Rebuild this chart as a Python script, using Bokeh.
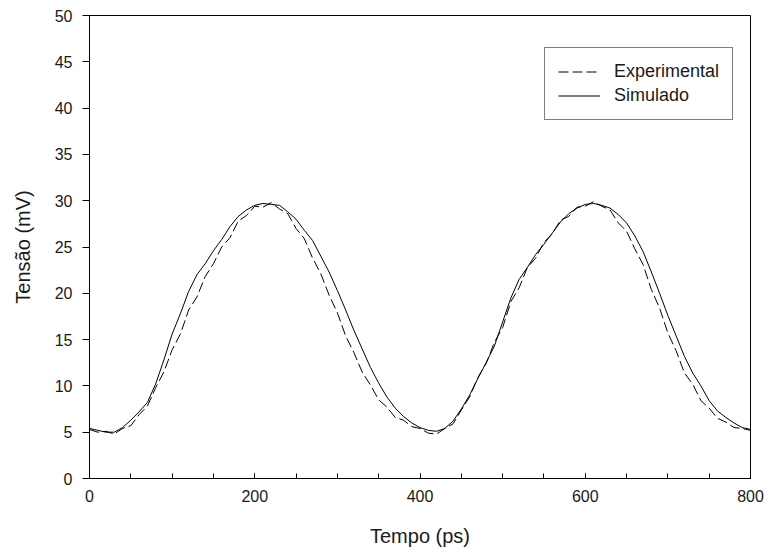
from bokeh.plotting import figure
from bokeh.models import Range1d, SingleIntervalTicker, Legend, LegendItem
from bokeh.embed import file_html
from bokeh.resources import INLINE

time_ps = list(range(0, 801, 10))

experimental_mv = [
    5.3, 5.0, 5.1, 4.8, 5.4, 5.7, 6.9, 7.8, 9.8, 11.5,
    13.9, 15.6, 18.2, 19.6, 21.8, 23.2, 25.0, 26.0, 27.8, 28.4,
    29.4, 29.3, 29.8, 29.1, 28.6, 27.0, 25.9, 23.8, 22.1, 19.8,
    17.9, 15.4, 13.6, 11.5, 10.1, 8.5, 7.7, 6.6, 6.3, 5.6,
    5.4, 4.9, 4.8, 5.4, 5.9, 7.4, 8.8, 10.9, 12.4, 14.7,
    16.3, 19.1, 20.6, 22.8, 23.8, 25.5, 26.4, 27.9, 28.3, 29.3,
    29.4, 29.9, 29.4, 29.0, 27.6, 26.7, 24.8, 23.1, 20.4, 18.4,
    15.7, 13.8, 11.4, 10.2, 8.4, 7.6, 6.5, 6.1, 5.5, 5.4,
    5.2,
]

simulated_mv = [
    5.4, 5.2, 5.0, 5.0, 5.5, 6.3, 7.2, 8.2, 10.2, 12.8,
    15.6, 17.8, 20.2, 22.0, 23.2, 24.6, 25.8, 27.2, 28.3, 29.0,
    29.5, 29.7, 29.6, 29.5, 28.8, 28.0, 26.8, 25.7, 24.0, 22.3,
    20.3, 18.2, 16.0, 14.0, 12.0, 10.3, 8.8, 7.6, 6.7, 6.0,
    5.5, 5.2, 5.1, 5.4, 6.2, 7.5, 9.0, 10.8, 12.5, 14.3,
    16.9, 19.5, 21.5, 22.8, 24.2, 25.3, 26.5, 27.7, 28.6, 29.2,
    29.6, 29.7, 29.5, 29.2, 28.5, 27.6, 26.2, 24.5, 22.3, 20.0,
    17.6, 15.4, 13.2, 11.4, 10.0, 8.4, 7.3, 6.6, 6.0, 5.5,
    5.3,
]

series_labels = ["Experimental", "Simulado"]
x_label = "Tempo (ps)"
y_label = "Tensão (mV)"

FONT = "Liberation Sans"
TXT = "#1a1a1a"

p = figure(width=764, height=550, output_backend="svg", toolbar_location=None,
           x_range=Range1d(0, 800), y_range=Range1d(0, 50),
           min_border_left=89, min_border_right=14, min_border_top=15, min_border_bottom=72,
           background_fill_color="white", border_fill_color="white")

p.grid.visible = False
p.outline_line_color = "black"
p.outline_line_width = 1

r_exp = p.line(time_ps, experimental_mv, line_color="black", line_width=1, line_dash="10 4")
r_sim = p.line(time_ps, simulated_mv, line_color="black", line_width=1)

# X axis
xa = p.xaxis[0]
xa.ticker = SingleIntervalTicker(interval=200, num_minor_ticks=4)
xa.major_tick_in = 5
xa.major_tick_out = 0
xa.minor_tick_in = 5
xa.minor_tick_out = 0
xa.axis_line_color = "black"
xa.major_tick_line_color = "black"
xa.minor_tick_line_color = "black"
xa.major_label_text_font = FONT
xa.major_label_text_font_size = "16px"
xa.major_label_text_color = TXT
xa.major_label_standoff = 11
xa.axis_label = x_label
xa.axis_label_text_font = FONT
xa.axis_label_text_font_size = "20px"
xa.axis_label_text_font_style = "normal"
xa.axis_label_text_color = TXT
xa.axis_label_standoff = 20

# Y axis
ya = p.yaxis[0]
ya.ticker = SingleIntervalTicker(interval=5, num_minor_ticks=0)
ya.major_tick_in = 0
ya.major_tick_out = 7
ya.minor_tick_line_color = None
ya.axis_line_color = "black"
ya.major_tick_line_color = "black"
ya.major_label_text_font = FONT
ya.major_label_text_font_size = "16px"
ya.major_label_text_color = TXT
ya.major_label_standoff = 10
ya.axis_label = y_label
ya.axis_label_text_font = FONT
ya.axis_label_text_font_size = "20px"
ya.axis_label_text_font_style = "normal"
ya.axis_label_text_color = TXT
ya.axis_label_standoff = 18

legend = Legend(items=[LegendItem(label=series_labels[0], renderers=[r_exp]),
                       LegendItem(label=series_labels[1], renderers=[r_sim])],
                location=(455, 358))
legend.border_line_color = "black"
legend.border_line_width = 1
legend.background_fill_color = "white"
legend.background_fill_alpha = 1
legend.label_text_font = FONT
legend.label_text_font_size = "18px"
legend.label_text_color = TXT
legend.glyph_width = 42
legend.glyph_height = 21
legend.label_height = 21
legend.label_standoff = 14
legend.spacing = 3
legend.padding = 13
legend.margin = 0
p.add_layout(legend)

open("out.html", "w").write(file_html(p, INLINE))
